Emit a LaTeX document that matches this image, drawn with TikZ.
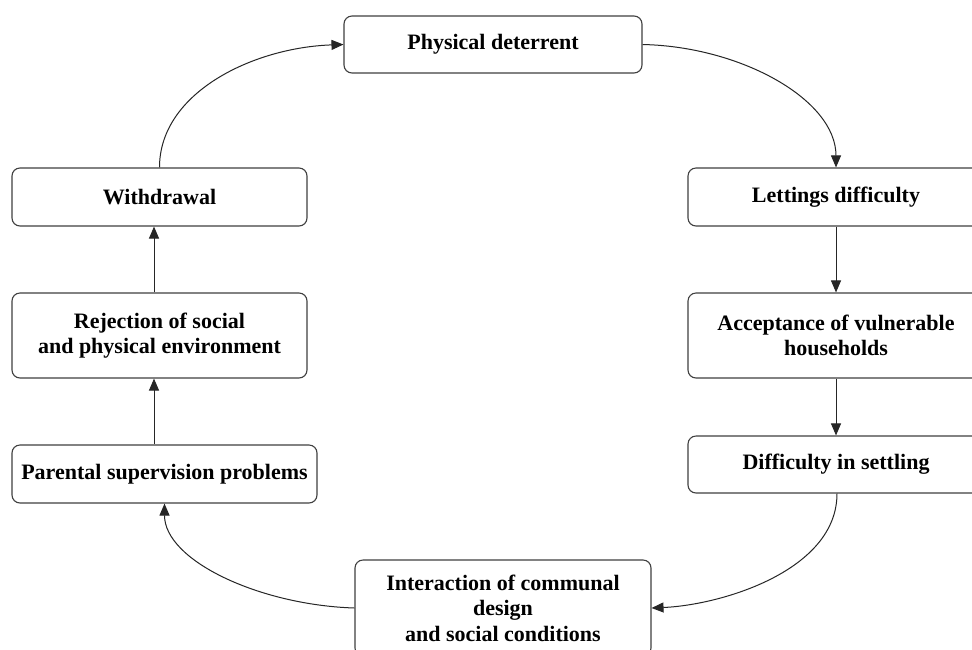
\documentclass[tikz,border=0pt]{standalone}
\usepackage{fontspec}
\setmainfont{Liberation Serif}
\usetikzlibrary{arrows.meta}
\begin{document}
\begin{tikzpicture}[x=1pt,y=-1pt,
  box/.style={draw=black!75, line width=1.1pt, rounded corners=8pt, fill=white,
    inner sep=0pt, align=center, font=\fontsize{22}{25.5}\selectfont\bfseries},
  conn/.style={draw=black!85, line width=1pt, -{Triangle[length=12pt,width=10pt]}}]
\clip (0,0) rectangle (972,649);
\fill[white] (0,0) rectangle (972,649);
\node[box, minimum width=298pt, minimum height=57pt] (pd) at (493,44.5) {Physical deterrent};
\node[box, minimum width=296pt, minimum height=58pt] (let) at (836,197) {Lettings difficulty};
\node[box, minimum width=296pt, minimum height=85pt] (acc) at (836,335.5) {Acceptance of vulnerable\\households};
\node[box, minimum width=296pt, minimum height=57pt] (dif) at (836,464.5) {Difficulty in settling};
\node[box, minimum width=296pt, minimum height=96pt] (int) at (503,608) {Interaction of communal\\design\\ and social conditions};
\node[box, minimum width=305pt, minimum height=58pt] (par) at (164.5,474) {Parental supervision problems};
\node[box, minimum width=295pt, minimum height=85pt] (rej) at (159.5,335.5) {Rejection of social\\and physical environment};
\node[box, minimum width=295pt, minimum height=58pt] (wd) at (159.5,197) {Withdrawal};
% curved connectors
\draw[conn] (wd.north) .. controls +(0,-75) and +(-90,3) .. (pd.west);
\draw[conn] (pd.east) .. controls +(98,2) and +(0,-68) .. (let.north);
\draw[conn] ([xshift=1pt]dif.south) .. controls +(0,77) and +(70,-3) .. (int.east);
\draw[conn] (int.west) .. controls +(-95,-3) and +(0,57) .. (par.south);
% straight connectors
\draw[conn] (let.south) -- (acc.north);
\draw[conn] (acc.south) -- (dif.north);
\draw[conn] ([xshift=-10.5pt]par.north) -- ([xshift=-5.5pt]rej.south);
\draw[conn] ([xshift=-5.5pt]rej.north) -- ([xshift=-5.5pt]wd.south);
\end{tikzpicture}
\end{document}
